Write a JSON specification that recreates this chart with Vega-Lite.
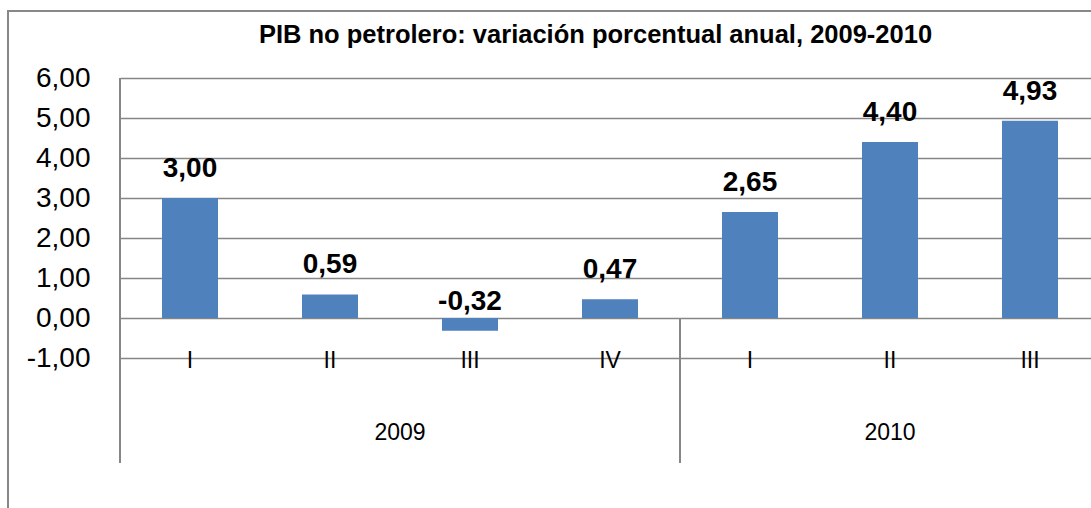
{
  "$schema": "https://vega.github.io/schema/vega-lite/v6.json",
  "autosize": {"type": "none"},
  "padding": {"left": 8, "top": 11, "right": 0, "bottom": 0},
  "width": 1083,
  "height": 497,
  "background": "white",
  "title": {
    "text": "PIB no petrolero: variación porcentual anual, 2009-2010",
    "font": "Liberation Sans",
    "fontSize": 25.5,
    "fontWeight": "bold",
    "color": "black",
    "anchor": "middle",
    "frame": "group",
    "baseline": "alphabetic",
    "offset": -31,
    "dy": 26,
    "dx": 46
  },
  "data": {
    "values": [
      {"year": "2009", "q": "I", "key": "2009-I", "value": 3.00},
      {"year": "2009", "q": "II", "key": "2009-II", "value": 0.59},
      {"year": "2009", "q": "III", "key": "2009-III", "value": -0.32},
      {"year": "2009", "q": "IV", "key": "2009-IV", "value": 0.47},
      {"year": "2010", "q": "I", "key": "2010-I", "value": 2.65},
      {"year": "2010", "q": "II", "key": "2010-II", "value": 4.40},
      {"year": "2010", "q": "III", "key": "2010-III", "value": 4.93}
    ]
  },
  "layer": [
    {
      "mark": {"type": "bar", "color": "#4F81BD", "width": {"band": 0.4}},
      "encoding": {
        "x": {
          "field": "key",
          "type": "nominal",
          "sort": null,
          "scale": {"range": [112, 1092], "paddingInner": 0, "paddingOuter": 0},
          "axis": {
            "orient": "bottom",
            "title": null,
            "labelExpr": "split(datum.value, '-')[1]",
            "labelFont": "Liberation Sans",
            "labelFontSize": 23,
            "labelColor": "black",
            "labelBaseline": "middle",
            "labelPadding": 0,
            "labelAngle": 0,
            "labelOverlap": false,
            "labelFlush": false,
            "ticks": false,
            "tickSize": 0,
            "domain": false,
            "grid": false,
            "offset": -148
          }
        },
        "y": {
          "field": "value",
          "type": "quantitative",
          "scale": {"domain": [-1, 6], "range": [347, 67], "nice": false, "zero": false},
          "axis": {
            "orient": "left",
            "title": null,
            "values": [-1, 0, 1, 2, 3, 4, 5, 6],
            "format": ".2f",
            "labelFont": "Liberation Sans",
            "labelFontSize": 28,
            "labelColor": "black",
            "labelPadding": 0,
            "ticks": false,
            "tickSize": 0,
            "domain": false,
            "grid": true,
            "gridColor": "#868686",
            "gridWidth": 1.5,
            "offset": -82
          }
        }
      }
    },
    {
      "mark": {"type": "text", "font": "Liberation Sans", "fontSize": 28, "fontWeight": "bold", "color": "black", "baseline": "alphabetic", "align": "center", "dy": -21},
      "encoding": {
        "x": {"field": "key", "type": "nominal", "sort": null},
        "y": {"field": "value", "type": "quantitative"},
        "text": {"field": "value", "type": "quantitative", "format": ".2f"}
      }
    },
    {
      "transform": [{"filter": "datum.q == 'I'"}],
      "mark": {"type": "rule", "color": "#868686", "strokeWidth": 2},
      "encoding": {
        "x": {"field": "key", "type": "nominal", "sort": null, "bandPosition": 0},
        "y": {"datum": 0},
        "y2": {"datum": -3.625}
      }
    },
    {
      "transform": [{"filter": "datum.key == '2009-I'"}],
      "mark": {"type": "rule", "color": "#868686", "strokeWidth": 2},
      "encoding": {
        "x": {"field": "key", "type": "nominal", "sort": null, "bandPosition": 0},
        "y": {"datum": 6},
        "y2": {"datum": 0}
      }
    },
    {
      "transform": [{"filter": "datum.key == '2009-II'"}],
      "mark": {"type": "text", "font": "Liberation Sans", "fontSize": 23, "color": "black", "baseline": "middle", "align": "center"},
      "encoding": {
        "x": {"field": "key", "type": "nominal", "sort": null, "bandPosition": 1},
        "y": {"datum": -2.875},
        "text": {"field": "year", "type": "nominal"}
      }
    },
    {
      "transform": [{"filter": "datum.key == '2010-II'"}],
      "mark": {"type": "text", "font": "Liberation Sans", "fontSize": 23, "color": "black", "baseline": "middle", "align": "center"},
      "encoding": {
        "x": {"field": "key", "type": "nominal", "sort": null, "bandPosition": 0.5},
        "y": {"datum": -2.875},
        "text": {"field": "year", "type": "nominal"}
      }
    }
  ],
  "config": {
    "locale": {
      "number": {"decimal": ",", "thousands": ".", "grouping": [3], "currency": ["", " €"], "minus": "-"}
    },
    "view": {"stroke": "#888888", "strokeWidth": 2, "strokeDash": [1084, 1578, 500]}
  }
}
